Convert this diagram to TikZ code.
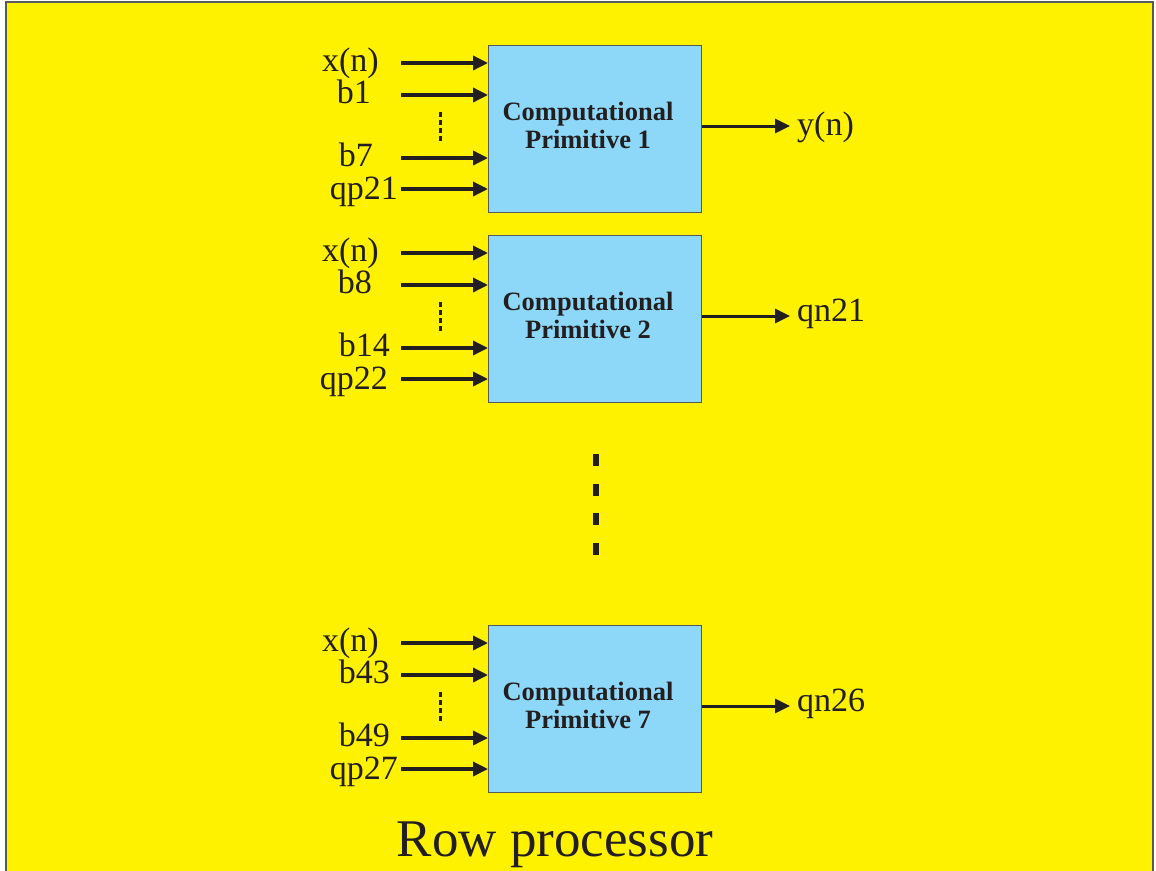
\documentclass[tikz,border=0pt]{standalone}
\usepackage{fontspec}
\setmainfont{Liberation Serif}
\usetikzlibrary{arrows.meta}
\definecolor{bgyellow}{HTML}{FFF200}
\definecolor{boxblue}{HTML}{8DD8F8}
\definecolor{ink}{HTML}{231F20}
\definecolor{edgegray}{HTML}{58595B}
\begin{document}
\begin{tikzpicture}[x=1pt,y=-1pt,
  primbox/.style={draw=edgegray, line width=1.3pt, fill=boxblue,
    minimum width=213pt, minimum height=167pt, inner sep=0pt, anchor=north west},
  boxtext/.style={font=\bfseries\fontsize{26.5}{29}\selectfont, text=ink, align=center, inner sep=0pt},
  inarrow/.style={draw=ink, line width=3.4pt, -{Triangle[length=15pt,width=14pt]}},
  lbl/.style={font=\fontsize{34}{40}\selectfont, text=ink, inner sep=0pt, anchor=base east},
  outlbl/.style={font=\fontsize{34}{40}\selectfont, text=ink, inner sep=0pt, anchor=base west},
  smalldots/.style={draw=ink, line width=3pt, dash pattern=on 5pt off 3pt},
  bigdots/.style={draw=ink, line width=6pt, dash pattern=on 12pt off 17.5pt}]
\useasboundingbox (0,0) rectangle (1156,870);
\fill[white] (0,0) rectangle (1156,870);
\fill[bgyellow] (6,2) rectangle (1153,880);
\draw[edgegray, line width=1.5pt] (6,880) -- (6,2) -- (1153,2) -- (1153,880);
\foreach \k/\num/\top/\la/\lb/\lbx/\lc/\lcx/\ld/\ldx/\out/\outb in {
  1/1/45/x(n)/b1/371/b7/373/qp21/398/y(n)/135,
  2/2/235/x(n)/b8/372/b14/390/qp22/388/qn21/321,
  3/7/625/x(n)/b43/390/b49/390/qp27/398/qn26/711} {
  \node[primbox] (box\k) at (488,\top) {};
  \node[boxtext] (bt\k) at (588,\top+80) {Computational\\[-1pt]Primitive \num};
  \coordinate (sa\k) at (401,\top+18);
  \coordinate (ea\k) at (488,\top+18);
  \coordinate (sb\k) at (401,\top+50);
  \coordinate (eb\k) at (488,\top+50);
  \coordinate (sc\k) at (401,\top+113);
  \coordinate (ec\k) at (488,\top+113);
  \coordinate (sd\k) at (401,\top+144);
  \coordinate (ed\k) at (488,\top+144);
  \coordinate (eo\k) at (790,\top+81);
  \coordinate (dt\k) at (440,\top+67);
  \coordinate (db\k) at (440,\top+98);
  \draw[inarrow] (sa\k) -- (ea\k);
  \draw[inarrow] (sb\k) -- (eb\k);
  \draw[inarrow] (sc\k) -- (ec\k);
  \draw[inarrow] (sd\k) -- (ed\k);
  \draw[inarrow, line width=3pt] (box\k.east |- eo\k) -- (eo\k);
  \draw[smalldots] (dt\k) -- (db\k);
  \node[lbl] (la\k) at (379,\top+26) {\la};
  \node[lbl] (lb\k) at (\lbx,\top+58) {\lb};
  \node[lbl] (lc\k) at (\lcx,\top+121) {\lc};
  \node[lbl] (ld\k) at (\ldx,\top+154) {\ld};
  \node[outlbl] (out\k) at (797,\outb) {\out};
}
\coordinate (bigtop) at (596,454);
\coordinate (bigbot) at (596,556);
\draw[bigdots] (bigtop) -- (bigbot);
\node[font=\fontsize{53}{58}\selectfont, text=ink, inner sep=0pt, anchor=base] (title) at (555,856) {Row processor};
\end{tikzpicture}
\end{document}
